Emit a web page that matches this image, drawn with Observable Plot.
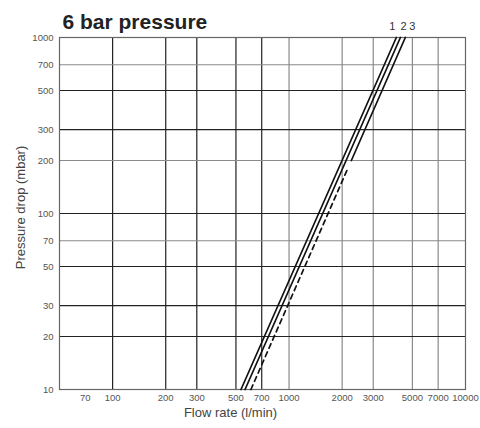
<!DOCTYPE html>
<html>
<head>
<meta charset="utf-8">
<script src="https://cdn.jsdelivr.net/npm/d3@7"></script>
<script src="https://cdn.jsdelivr.net/npm/@observablehq/plot@0.6"></script>
<style>
  body { margin: 0; background: #fff; }
</style>
</head>
<body>
<div id="chart"></div>
<script>
// ---- data ----
const title = "6 bar pressure";
const xTicks = [70, 100, 200, 300, 500, 700, 1000, 2000, 3000, 5000, 7000, 10000];
const yTicks = [10, 20, 30, 50, 70, 100, 200, 300, 500, 700, 1000];
const xGrid = [100, 200, 300, 500, 700, 1000, 2000, 3000, 5000, 7000];
const yGrid = [20, 30, 50, 70, 100, 200, 300, 500, 700];

// curve 1 (solid)
const curve1Flow = [534, 4055];
const curve1Drop = [10, 1000];
// curve 2 (solid)
const curve2Flow = [563, 4276];
const curve2Drop = [10, 1000];
// curve 3 (solid part)
const curve3Flow = [2255, 4560];
const curve3Drop = [200, 1000];
// curve 3 (dashed part)
const curve3DashFlow = [608, 2150];
const curve3DashDrop = [10, 180];

const curveLabels = ["1", "2", "3"];
const curveLabelFlow = [3850, 4450, 5000];
const curveLabelDrop = [1000, 1000, 1000];

const toPts = (xs, ys) => xs.map((x, i) => ({flow: x, drop: ys[i]}));
const labelPts = curveLabels.map((t, i) => ({t, flow: curveLabelFlow[i], drop: curveLabelDrop[i]}));

const dark = "#222";
const light = "#8a8a8a";
const tickColor = "#555";

const plot = Plot.plot({
  width: 480,
  height: 428,
  marginLeft: 59,
  marginRight: 15,
  marginTop: 37,
  marginBottom: 39,
  style: {fontFamily: "'Liberation Sans', Arial, Helvetica, sans-serif", fontSize: "9px", color: "#555", background: "#fff"},
  x: {type: "log", domain: [50, 10000], axis: null},
  y: {type: "log", domain: [10, 1000], axis: null},
  marks: [
    Plot.ruleX(xGrid, {stroke: d => d <= 700 ? dark : light, strokeWidth: 1.2}),
    Plot.ruleY(yGrid, {stroke: d => (d === 70 || d === 200 || d === 700) ? light : dark, strokeWidth: 1.2}),
    Plot.frame({stroke: "#666", strokeWidth: 1.2}),
    // tick labels
    Plot.text(xTicks, {x: d => d, frameAnchor: "bottom", dy: 11, text: d => String(d), fontSize: 9.5, fill: tickColor}),
    Plot.text(yTicks, {y: d => d, frameAnchor: "left", dx: -6, textAnchor: "end", text: d => String(d), fontSize: 9.5, fill: tickColor}),
    // curves
    Plot.line(toPts(curve1Flow, curve1Drop), {x: "flow", y: "drop", stroke: "#111", strokeWidth: 1.7}),
    Plot.line(toPts(curve2Flow, curve2Drop), {x: "flow", y: "drop", stroke: "#111", strokeWidth: 1.7}),
    Plot.line(toPts(curve3Flow, curve3Drop), {x: "flow", y: "drop", stroke: "#111", strokeWidth: 1.7}),
    Plot.line(toPts(curve3DashFlow, curve3DashDrop), {x: "flow", y: "drop", stroke: "#111", strokeWidth: 1.7, strokeDasharray: "5,4"}),
    Plot.text(labelPts, {x: "flow", y: "drop", text: "t", dy: -11, fontSize: 11, fill: "#333"}),
    // titles
    Plot.text([title], {frameAnchor: "top-left", dx: 3, dy: -23, fontSize: 21, fontWeight: "bold", fill: "#222", textAnchor: "start"}),
    Plot.text(["Flow rate (l/min)"], {frameAnchor: "bottom", dx: -32, dy: 27, fontSize: 13, fill: "#444"}),
    Plot.text(["Pressure drop (mbar)"], {frameAnchor: "left", dx: -39, dy: -6, rotate: -90, textAnchor: "middle", fontSize: 13, fill: "#444"})
  ]
});
document.getElementById("chart").appendChild(plot);
</script>
</body>
</html>
